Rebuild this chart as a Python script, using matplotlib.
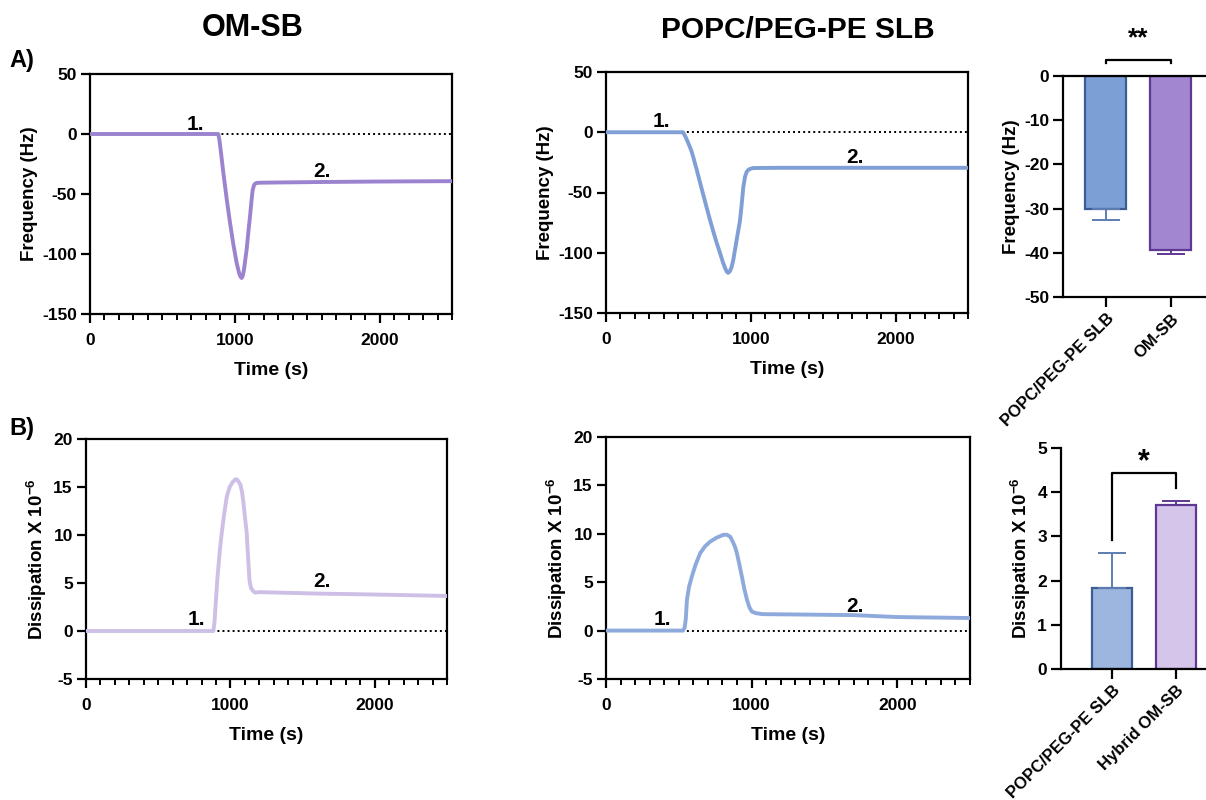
import matplotlib
matplotlib.use('Agg')
import matplotlib.pyplot as plt
from matplotlib.ticker import MultipleLocator

plt.rcParams['font.family'] = ['Liberation Sans', 'DejaVu Sans']
plt.rcParams['font.weight'] = 'bold'
plt.rcParams['axes.unicode_minus'] = False
plt.rcParams['mathtext.fontset'] = 'custom'
plt.rcParams['mathtext.rm'] = 'Liberation Sans'
plt.rcParams['mathtext.bf'] = 'Liberation Sans:bold'
plt.rcParams['axes.linewidth'] = 1.6

# Datos leidos a ojo de la figura
# A) frecuencia, OM-SB
t_freq_om = [0, 886, 895, 905, 921, 945, 967, 990, 1013, 1030, 1040, 1047, 1054, 1062, 1070,
             1082, 1095, 1105, 1115, 1123, 1133, 1142, 1151, 1175, 1300, 1600, 2000, 2500]
f_om = [0, 0, -6, -16, -32.5, -55, -74, -92, -107.5, -116, -119, -120, -118.5, -114, -107,
        -96, -80, -68.7, -56, -47, -42.5, -41.3, -40.8, -40.6, -40.4, -40, -39.6, -39.3]
# A) frecuencia, POPC/PEG-PE SLB
t_freq_popc = [0, 532, 550, 570, 590, 603, 625, 650, 672, 695, 720, 745, 765, 787, 805, 820,
               833, 843, 855, 867, 879, 893, 910, 925, 937, 948, 960, 971, 985, 1000, 1017,
               1200, 2500]
f_popc = [0, 0, -4, -9.5, -15.5, -20.8, -30.5, -42, -52, -62.5, -73.5, -84, -92, -100, -107, -112,
          -115.5, -116.7, -115.5, -112, -106, -96, -84, -73.6, -60, -45.8, -37, -33, -31, -30.2,
          -29.7, -29.5, -29.5]
# B) disipacion, OM-SB
t_dis_om = [0, 882, 890, 900, 910, 917, 928, 940, 955, 975, 995, 1015, 1035, 1044, 1055, 1070,
            1080, 1090, 1100, 1113, 1122, 1132, 1142, 1155, 1171, 1200, 1600, 2000, 2500]
d_om = [0, 0, 1.0, 3.2, 5.5, 6.7, 8.6, 10.2, 12.0, 14.0, 15.0, 15.5, 15.8, 15.8, 15.6, 15.2,
        14.5, 13.4, 12.0, 10.2, 7.8, 5.3, 4.5, 4.2, 4.0, 4.05, 3.9, 3.8, 3.65]
# B) disipacion, POPC/PEG-PE SLB
t_dis_popc = [0, 528, 540, 548, 556, 570, 590, 615, 647, 680, 716, 760, 807, 830, 853, 870,
              885, 899, 915, 933, 950, 968, 985, 1002, 1030, 1074, 1400, 1700, 2000, 2500]
d_popc = [0, 0, 0.3, 1.2, 3.2, 4.5, 5.6, 6.8, 8.0, 8.7, 9.2, 9.6, 9.9, 9.9, 9.7, 9.2,
          8.7, 8.0, 6.9, 5.6, 4.3, 3.2, 2.4, 1.96, 1.8, 1.7, 1.65, 1.6, 1.4, 1.3]

time_ticks = [0, 1000, 2000]
freq_ticks = [-150, -100, -50, 0, 50]
dis_ticks = [-5, 0, 5, 10, 15, 20]

# Barras
bar_labels_freq = ['POPC/PEG-PE SLB', 'OM-SB']
bar_freq = [-30.2, -39.3]
bar_freq_err = [2.4, 0.9]
bar_freq_ticks = [-50, -40, -30, -20, -10, 0]
bar_labels_dis = ['POPC/PEG-PE SLB', 'Hybrid OM-SB']
bar_dis = [1.83, 3.70]
bar_dis_err = [0.80, 0.10]
bar_dis_ticks = [0, 1, 2, 3, 4, 5]

c_om = '#9c83cf'
c_popc = '#7f9fd6'
c_om_light = '#cdbfe6'
c_popc_light = '#8eaadc'

W, H = 1206, 800
fig = plt.figure(figsize=(W / 100, H / 100), dpi=100)

TICK_FS = 12.5
YLAB = 'Dissipation X 10$^{-6}$'


def caja(x0, y_top, x1, y_bot):
    return fig.add_axes([x0 / W, 1 - y_bot / H, (x1 - x0) / W, (y_bot - y_top) / H])


def estilo_tiempo(ax, yticks, ylabel):
    ax.set_xlim(0, 2500)
    ax.set_ylim(yticks[0], yticks[-1])
    ax.set_xticks(time_ticks, [str(v) for v in time_ticks], fontsize=TICK_FS, fontweight='bold')
    ax.set_yticks(yticks, [str(v) for v in yticks], fontsize=TICK_FS, fontweight='bold')
    ax.xaxis.set_minor_locator(MultipleLocator(100))
    ax.tick_params(which='major', length=6.5, width=1.6, pad=3)
    ax.tick_params(which='minor', length=4.3, width=1.4)
    ax.tick_params(axis='x', which='major', pad=7)
    ax.set_xlabel('Time (s)', fontsize=14, fontweight='bold', labelpad=10)
    ax.set_ylabel(ylabel, fontsize=13.5, fontweight='bold', labelpad=3)
    ax.axhline(0, color='black', linestyle=(0, (1, 1.6)), linewidth=1.4, zorder=1)


def marcar(ax, t1, y1, t2, y2):
    ax.text(t1, y1, '1.', fontsize=15, fontweight='bold', ha='center', va='center')
    ax.text(t2, y2, '2.', fontsize=15, fontweight='bold', ha='center', va='center')


# --- A) OM-SB frecuencia
ax1 = caja(90, 74, 452, 314)
ax1.plot(t_freq_om, f_om, color=c_om, linewidth=2.8, zorder=3, solid_joinstyle='round')
estilo_tiempo(ax1, freq_ticks, 'Frequency (Hz)')
marcar(ax1, 725, 8, 1600, -31)

# --- A) POPC frecuencia
ax2 = caja(606, 72, 968, 313)
ax2.plot(t_freq_popc, f_popc, color=c_popc, linewidth=2.8, zorder=3, solid_joinstyle='round')
estilo_tiempo(ax2, freq_ticks, 'Frequency (Hz)')
marcar(ax2, 385, 9, 1720, -21)

# --- B) OM-SB disipacion
ax4 = caja(86, 439, 447, 679)
ax4.plot(t_dis_om, d_om, color=c_om_light, linewidth=2.8, zorder=3, solid_joinstyle='round')
estilo_tiempo(ax4, dis_ticks, YLAB)
marcar(ax4, 767, 1.2, 1633, 5.2)

# --- B) POPC disipacion
ax5 = caja(606, 437, 970, 679)
ax5.plot(t_dis_popc, d_popc, color=c_popc_light, linewidth=2.8, zorder=3, solid_joinstyle='round')
estilo_tiempo(ax5, dis_ticks, YLAB)
marcar(ax5, 384, 1.1, 1711, 2.5)

xs = [0, 1]


def barras(ax, vals, errs, fills, labels, yticks, ylabel, abajo):
    ax.bar(xs, vals, width=0.63, color=fills, edgecolor=['#3b5c95', '#5f3893'],
           linewidth=1.6, zorder=2)
    for x, v, e, c in zip(xs, vals, errs, ['#5d7db2', '#5f3893']):
        ye = [[e], [0]] if abajo else [[0], [e]]
        ax.errorbar([x], [v], yerr=ye, fmt='none', ecolor=c, elinewidth=1.4,
                    capsize=10, capthick=1.4, zorder=3)
    ax.set_ylim(yticks[0], yticks[-1])
    ax.set_yticks(yticks, [str(v) for v in yticks], fontsize=TICK_FS, fontweight='bold')
    ax.spines['right'].set_visible(False)
    ax.set_xticks(xs)
    ax.set_xticklabels(labels, rotation=45, ha='right', rotation_mode='anchor',
                       fontsize=12, fontweight='bold')
    ax.tick_params(length=7, width=1.6, pad=3)
    ax.set_ylabel(ylabel, fontsize=13.5, fontweight='bold', labelpad=3)


# --- A) barras de frecuencia
ax3 = caja(1063, 76, 1206, 297)
barras(ax3, bar_freq, bar_freq_err, ['#7ca0d6', '#a386d0'], bar_labels_freq,
       bar_freq_ticks, 'Frequency (Hz)', True)
ax3.set_xlim(-0.66, 1.54)
ax3.plot([0, 0, 1, 1], [2.9, 3.6, 3.6, 2.9], color='black', linewidth=1.6, clip_on=False)
ax3.text(0.5, 8.6, '**', fontsize=19, fontweight='bold', ha='center', va='center')

# --- B) barras de disipacion
ax6 = caja(1061, 448, 1206, 669)
barras(ax6, bar_dis, bar_dis_err, ['#9db6e0', '#d5c5eb'], bar_labels_dis,
       bar_dis_ticks, YLAB, False)
ax6.set_xlim(-0.8, 1.47)
ax6.spines['top'].set_visible(False)
ax6.plot([0, 0, 1, 1], [2.92, 4.43, 4.43, 4.09], color='black', linewidth=1.6, clip_on=False)
ax6.text(0.5, 4.68, '*', fontsize=22, fontweight='bold', ha='center', va='center')

# Titulos y letras de panel
fig.text(253 / W, 1 - 28 / H, 'OM-SB', fontsize=22, fontweight='bold', ha='center', va='center')
fig.text(798 / W, 1 - 30 / H, 'POPC/PEG-PE SLB', fontsize=21.5, fontweight='bold',
         ha='center', va='center')
fig.text(22 / W, 1 - 60 / H, 'A)', fontsize=17, fontweight='bold', ha='center', va='center')
fig.text(22 / W, 1 - 428 / H, 'B)', fontsize=17, fontweight='bold', ha='center', va='center')

fig.savefig('out.png', dpi=100)
